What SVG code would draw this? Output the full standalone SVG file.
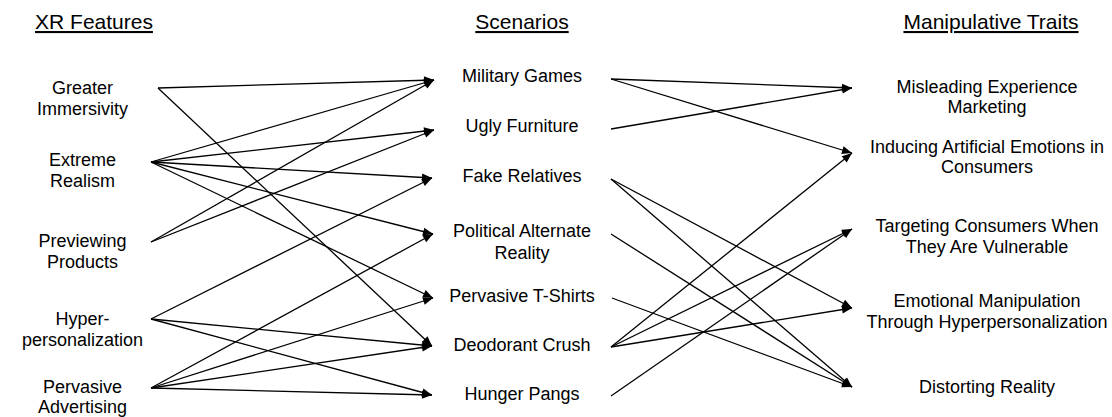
<svg xmlns="http://www.w3.org/2000/svg" width="1112" height="417" viewBox="0 0 1112 417">
<style>
text{font-family:"Liberation Sans",Arial,sans-serif;fill:#000;text-anchor:middle}
.t{font-size:21px;text-decoration:underline}
.n{font-size:18px}
.c line{stroke:#000;stroke-width:1.3;marker-end:url(#a)}
</style>
<defs>
<marker id="a" markerUnits="userSpaceOnUse" markerWidth="11" markerHeight="9" refX="10" refY="4" orient="auto" overflow="visible">
<path d="M0,0 L10,4 L0,8 z" fill="#000"/>
</marker>
</defs>
<rect width="1112" height="417" fill="#fff"/>
<g id="titles">
<text class="t" x="94" y="29">XR Features</text>
<text class="t" x="522" y="29">Scenarios</text>
<text class="t" x="991" y="29">Manipulative Traits</text>
</g>
<g id="greater"><text class="n" x="82.5" y="93.5">Greater</text><text class="n" x="82.5" y="114.5">Immersivity</text></g>
<g id="extreme"><text class="n" x="82.5" y="166">Extreme</text><text class="n" x="82.5" y="187">Realism</text></g>
<g id="previewing"><text class="n" x="82.5" y="246.5">Previewing</text><text class="n" x="82.5" y="267.5">Products</text></g>
<g id="hyper"><text class="n" x="82.5" y="325">Hyper-</text><text class="n" x="82.5" y="345.5">personalization</text></g>
<g id="pervasive"><text class="n" x="82.5" y="392.5">Pervasive</text><text class="n" x="82.5" y="413">Advertising</text></g>

<g id="military"><text class="n" x="522" y="82.3">Military Games</text></g>
<g id="ugly"><text class="n" x="522" y="131.7">Ugly Furniture</text></g>
<g id="fake"><text class="n" x="522" y="182.3">Fake Relatives</text></g>
<g id="political"><text class="n" x="522" y="236.7">Political Alternate</text><text class="n" x="522" y="258.5">Reality</text></g>
<g id="tshirts"><text class="n" x="522" y="301.7">Pervasive T-Shirts</text></g>
<g id="deodorant"><text class="n" x="522" y="351">Deodorant Crush</text></g>
<g id="hunger"><text class="n" x="522" y="400">Hunger Pangs</text></g>

<g id="misleading"><text class="n" x="987" y="93.3">Misleading Experience</text><text class="n" x="987" y="113">Marketing</text></g>
<g id="inducing"><text class="n" x="987" y="152.7">Inducing Artificial Emotions in</text><text class="n" x="987" y="172.7">Consumers</text></g>
<g id="targeting"><text class="n" x="987" y="231.7">Targeting Consumers When</text><text class="n" x="987" y="252.7">They Are Vulnerable</text></g>
<g id="emotional"><text class="n" x="987" y="307">Emotional Manipulation</text><text class="n" x="987" y="328.3">Through Hyperpersonalization</text></g>
<g id="distorting"><text class="n" x="987" y="393">Distorting Reality</text></g>

<g id="connectors" class="c">
<line x1="158" y1="88" x2="434" y2="80"/>
<line x1="158" y1="88" x2="432" y2="346"/>
<line x1="151" y1="162" x2="434" y2="80"/>
<line x1="151" y1="162" x2="434" y2="130"/>
<line x1="151" y1="162" x2="432" y2="178"/>
<line x1="151" y1="162" x2="433" y2="234"/>
<line x1="151" y1="162" x2="433" y2="298"/>
<line x1="151" y1="242" x2="434" y2="80"/>
<line x1="151" y1="242" x2="434" y2="130"/>
<line x1="151" y1="319" x2="432" y2="178"/>
<line x1="151" y1="319" x2="432" y2="346"/>
<line x1="151" y1="319" x2="432" y2="395"/>
<line x1="151" y1="388" x2="433" y2="234"/>
<line x1="151" y1="388" x2="433" y2="298"/>
<line x1="151" y1="388" x2="432" y2="346"/>
<line x1="151" y1="388" x2="432" y2="395"/>
<line x1="611" y1="79" x2="852" y2="88"/>
<line x1="611" y1="79" x2="852" y2="153"/>
<line x1="611" y1="129" x2="852" y2="88"/>
<line x1="611" y1="179" x2="852" y2="308"/>
<line x1="611" y1="179" x2="852" y2="387"/>
<line x1="611" y1="234" x2="852" y2="387"/>
<line x1="612" y1="298" x2="852" y2="387"/>
<line x1="611" y1="347" x2="852" y2="153"/>
<line x1="611" y1="347" x2="852" y2="229"/>
<line x1="611" y1="347" x2="852" y2="308"/>
<line x1="611" y1="396" x2="852" y2="229"/>
</g>
</svg>
